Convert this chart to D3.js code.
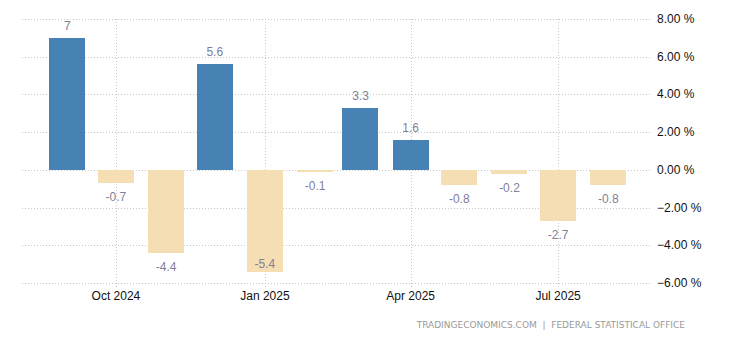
<!DOCTYPE html>
<html>
<head>
<meta charset="utf-8">
<script src="https://cdn.jsdelivr.net/npm/d3@7"></script>
<style>
  body { margin: 0; background: #fff; }
  svg { display: block; font-family: "Liberation Sans", Arial, sans-serif; }
</style>
</head>
<body>
<div id="chart"></div>
<script>
// monthly change, %
var months = ["2024-09", "2024-10", "2024-11", "2024-12", "2025-01", "2025-02",
              "2025-03", "2025-04", "2025-05", "2025-06", "2025-07", "2025-08"];
var values = [7, -0.7, -4.4, 5.6, -5.4, -0.1, 3.3, 1.6, -0.8, -0.2, -2.7, -0.8];
var yTicks = [-6, -4, -2, 0, 2, 4, 6, 8];
var xTicks = ["2024-10", "2025-01", "2025-04", "2025-07"];

var W = 730, H = 340;
var plotL = 22, plotR = 652, plotT = 19, plotB = 283;
var barW = 36;

var parse = d3.timeParse("%Y-%m");
var data = months.map((m, i) => ({ date: parse(m), value: values[i] }));

var svg = d3.select("#chart")
  .append("svg")
  .attr("width", W)
  .attr("height", H);

var x = d3.scaleTime()
  .domain([new Date(2024, 7, 4), new Date(2025, 7, 28)])
  .range([plotL, plotR]);

var y = d3.scaleLinear().domain([-6, 8]).range([plotB, plotT]);

// horizontal grid
svg.append("g")
  .selectAll("line")
  .data(yTicks)
  .enter()
  .append("line")
  .attr("x1", plotL)
  .attr("x2", plotR)
  .attr("y1", (d) => Math.round(y(d)) + 0.5)
  .attr("y2", (d) => Math.round(y(d)) + 0.5)
  .attr("stroke", "#c8c8c8")
  .attr("stroke-dasharray", "1,2");

// vertical grid
svg.append("g")
  .selectAll("line")
  .data(xTicks)
  .enter()
  .append("line")
  .attr("x1", (d) => Math.round(x(parse(d))) + 0.5)
  .attr("x2", (d) => Math.round(x(parse(d))) + 0.5)
  .attr("y1", plotT)
  .attr("y2", plotB + 5)
  .attr("stroke", "#c8c8c8")
  .attr("stroke-dasharray", "1,2");

// bars
svg.append("g")
  .selectAll("rect")
  .data(data)
  .enter()
  .append("rect")
  .attr("x", (d) => Math.round(x(d.date) - barW / 2))
  .attr("width", barW)
  .attr("y", (d) => Math.round(y(Math.max(0, d.value))))
  .attr("height", (d) => Math.round(Math.abs(y(d.value) - y(0))))
  .attr("fill", (d) => d.value >= 0 ? "#4682b4" : "#f5deb3");

// value labels
svg.append("g")
  .selectAll("text")
  .data(data)
  .enter()
  .append("text")
  .attr("x", (d) => x(d.date))
  .attr("y", function (d) {
    if (d.value >= 0) return y(d.value) - 8;
    var yy = y(d.value) + 18;
    return yy > plotB - 8 ? y(d.value) - 4 : yy;
  })
  .attr("text-anchor", "middle")
  .attr("fill", "#7f7f9a")
  .style("font-size", "12px")
  .text((d) => d.value);

// y labels (right side)
svg.append("g")
  .selectAll("text")
  .data(yTicks)
  .enter()
  .append("text")
  .attr("x", 657)
  .attr("y", (d) => y(d) + 4)
  .attr("fill", "#111")
  .style("font-size", "12px")
  .text((d) => d3.format(".2f")(d) + " %");

// x labels
svg.append("g")
  .selectAll("text")
  .data(xTicks)
  .enter()
  .append("text")
  .attr("x", (d) => x(parse(d)))
  .attr("y", plotB + 17)
  .attr("text-anchor", "middle")
  .attr("fill", "#111")
  .style("font-size", "12px")
  .text((d) => d3.timeFormat("%b %Y")(parse(d)));

// source
svg.append("text")
  .attr("x", 685)
  .attr("y", 328)
  .attr("text-anchor", "end")
  .attr("fill", "#999")
  .style("font-size", "9px")
  .style("font-family", "'DejaVu Sans', sans-serif")
  .style("white-space", "pre")
  .text("TRADINGECONOMICS.COM  |  FEDERAL STATISTICAL OFFICE");
</script>
</body>
</html>
